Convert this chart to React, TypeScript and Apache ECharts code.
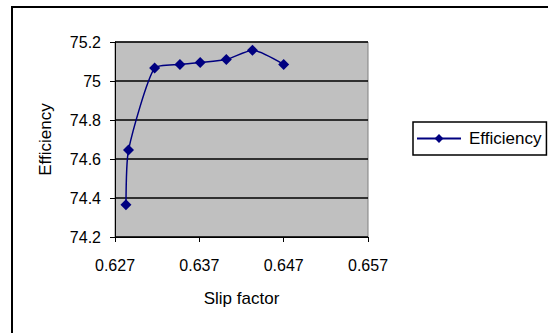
import React, { useEffect, useRef } from "react";
import * as echarts from "echarts";

const slipFactor = [0.6283, 0.6286, 0.6317, 0.6347, 0.6371, 0.6402, 0.6433, 0.647];
const efficiency = [74.365, 74.646, 75.067, 75.085, 75.095, 75.11, 75.158, 75.085];
const xMin = 0.627;
const xMax = 0.657;
const xStep = 0.01;
const yMin = 74.2;
const yMax = 75.2;
const yStep = 0.2;
const seriesName = "Efficiency";
const xTitle = "Slip factor";
const yTitle = "Efficiency";

const FONT = "'Liberation Sans', Arial, sans-serif";

export default function App() {
  const ref = useRef<HTMLDivElement>(null);
  useEffect(() => {
    if (!ref.current) return;
    const chart = echarts.init(ref.current, null, { renderer: "svg" });
    // x offset in thousandths from xMin; y in tenths so the tick origin is a multiple of the interval
    const data = slipFactor.map((s, i) => [
      Math.round((s - xMin) * 1e6) / 1e3,
      Math.round(efficiency[i] * 1e4) / 1e3,
    ]);
    chart.setOption({
      animation: false,
      textStyle: { fontFamily: FONT },
      graphic: [
        {
          type: "rect",
          shape: { x: 12, y: 7, width: 700, height: 500 },
          style: { fill: "none", stroke: "#000", lineWidth: 2 },
          silent: true,
          z: -10,
        },
      ],
      grid: {
        left: 115,
        top: 42,
        right: 180,
        bottom: 96,
        show: true,
        backgroundColor: "#c0c0c0",
        borderColor: "#808080",
        borderWidth: 1,
      },
      legend: {
        show: true,
        left: 413,
        top: 122,
        orient: "vertical",
        borderColor: "#000",
        borderWidth: 1.5,
        padding: [8, 5, 8, 3],
        itemWidth: 44,
        itemHeight: 11,
        itemGap: 0,
        textStyle: { fontFamily: FONT, fontSize: 17, color: "#000", padding: [0, 0, 0, 3] },
        data: [seriesName],
      },
      xAxis: {
        type: "value",
        min: 0,
        max: Math.round((xMax - xMin) * 1000),
        interval: xStep * 1000,
        name: xTitle,
        nameLocation: "middle",
        nameGap: 53,
        nameTextStyle: { fontFamily: FONT, fontSize: 17, color: "#000" },
        axisLine: { show: true, onZero: false, lineStyle: { color: "#000", width: 1 } },
        axisTick: { show: true, inside: false, length: 5, lineStyle: { color: "#000" } },
        axisLabel: {
          margin: 20,
          fontFamily: FONT,
          fontSize: 16,
          color: "#000",
          formatter: (v: number) => (xMin + v / 1000).toFixed(3),
        },
        splitLine: { show: false },
      },
      yAxis: {
        type: "value",
        min: Math.round(yMin * 10),
        max: Math.round(yMax * 10),
        interval: Math.round(yStep * 10),
        name: yTitle,
        nameLocation: "middle",
        nameGap: 61,
        nameRotate: 90,
        nameTextStyle: { fontFamily: FONT, fontSize: 17, color: "#000" },
        axisLine: { show: true, lineStyle: { color: "#000", width: 1 } },
        axisTick: { show: true, inside: false, length: 5, lineStyle: { color: "#000" } },
        axisLabel: {
          margin: 14,
          fontFamily: FONT,
          fontSize: 16,
          color: "#000",
          formatter: (v: number) => String(Math.round(v) / 10),
        },
        splitLine: { show: true, lineStyle: { color: "#000", width: 1.5 } },
      },
      series: [
        {
          name: seriesName,
          type: "line",
          data,
          smooth: 0.2,
          symbol: "diamond",
          symbolSize: 11,
          lineStyle: { color: "#000080", width: 1.5 },
          itemStyle: { color: "#000080" },
        },
      ],
    });
    return () => chart.dispose();
  }, []);
  return (
    <div
      ref={ref}
      style={{ position: "fixed", left: 0, top: 0, width: 548, height: 333, background: "#fff" }}
    />
  );
}
